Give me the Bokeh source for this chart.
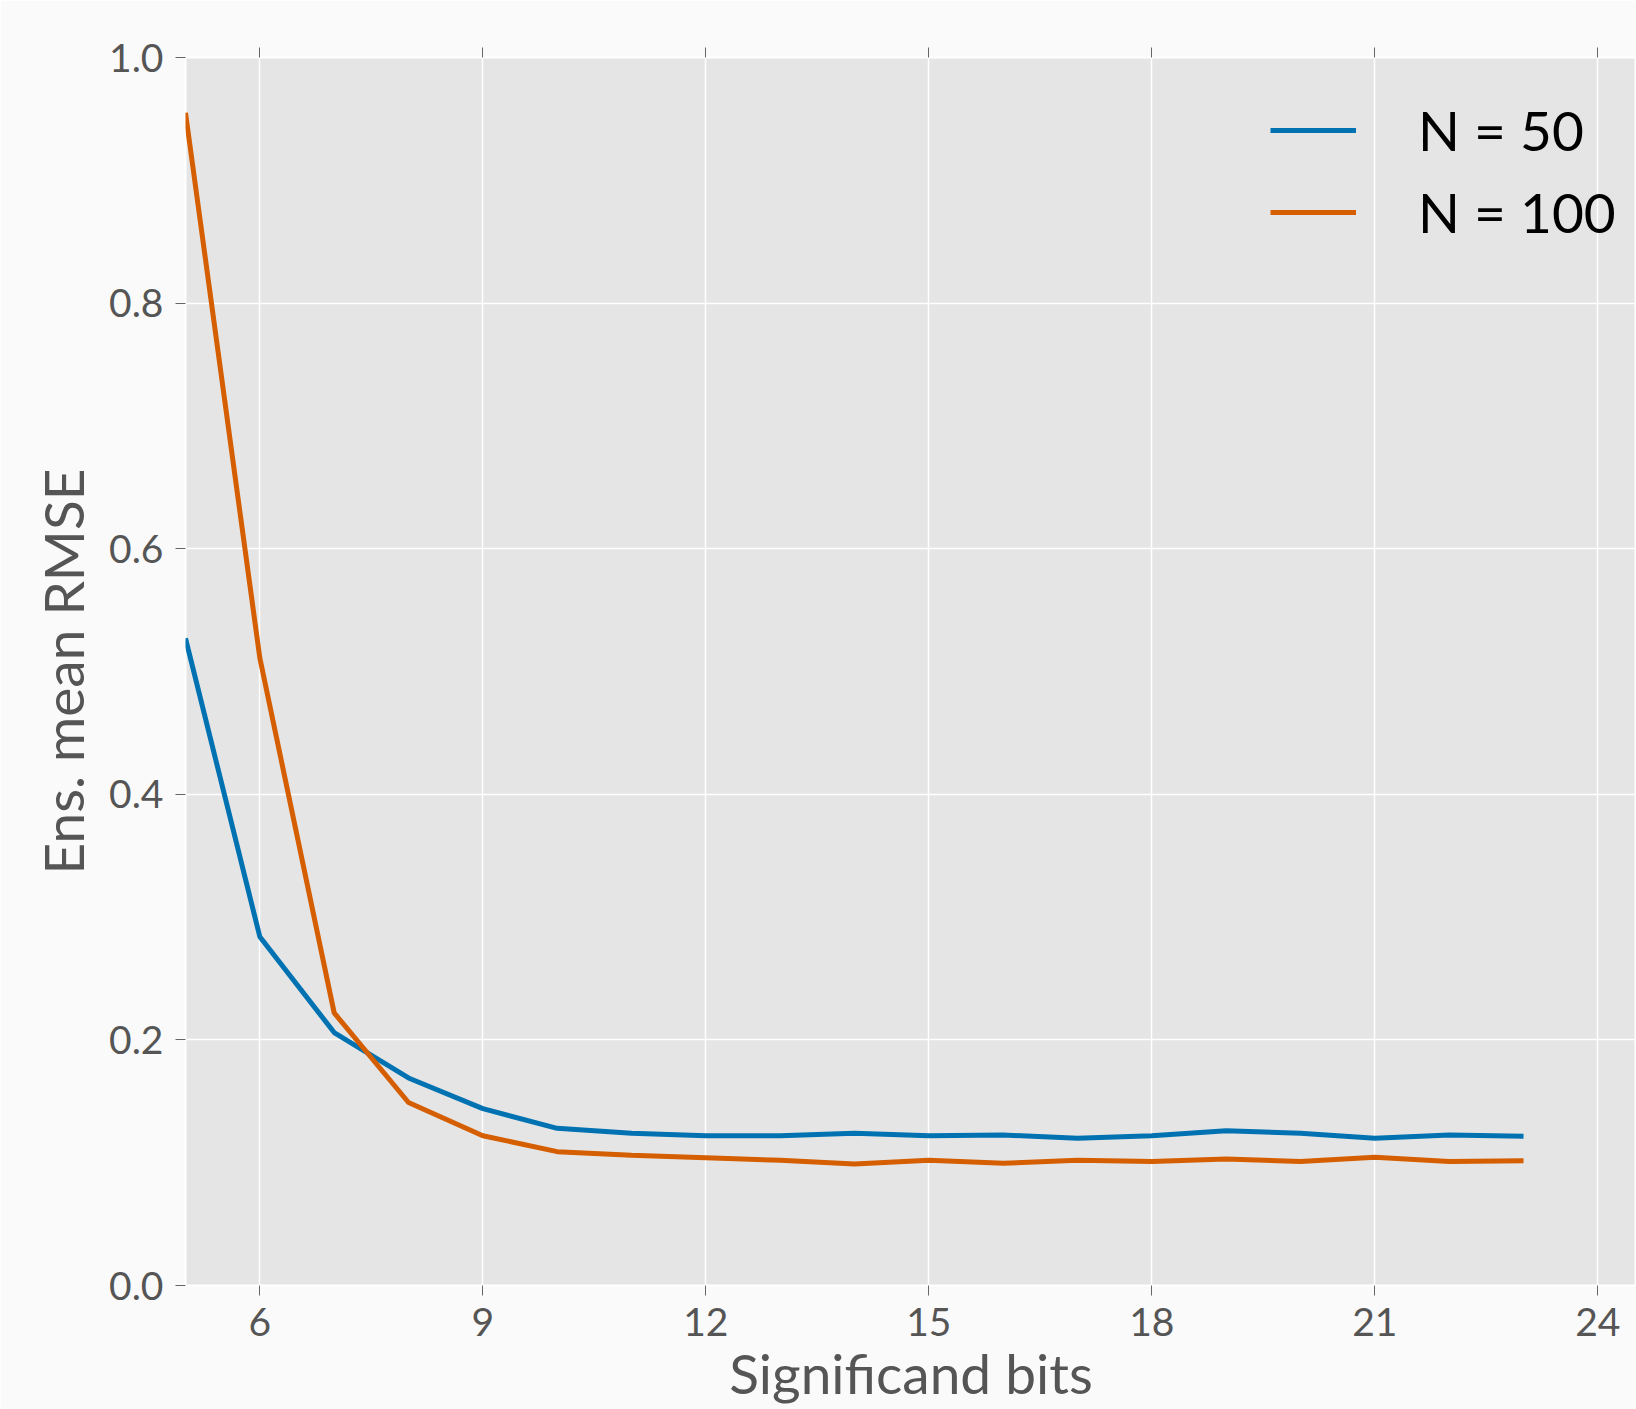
from bokeh.plotting import figure
from bokeh.models import LinearAxis, FixedTicker, Range1d, Legend, LegendItem
from bokeh.embed import file_html
from bokeh.resources import INLINE

# ---- data ----
bits = [5, 6, 7, 8, 9, 10, 11, 12, 13, 14, 15, 16, 17, 18, 19, 20, 21, 22, 23]
rmse_n50 = [0.527, 0.284, 0.206, 0.169, 0.144, 0.128, 0.124, 0.122, 0.122, 0.124,
            0.122, 0.1225, 0.120, 0.122, 0.126, 0.124, 0.120, 0.1225, 0.1215]
rmse_n100 = [0.955, 0.511, 0.222, 0.149, 0.122, 0.109, 0.106, 0.104, 0.102, 0.099,
             0.102, 0.0995, 0.102, 0.101, 0.103, 0.101, 0.1045, 0.101, 0.1015]
series_labels = ["N = 50", "N = 100"]
x_ticks = [6, 9, 12, 15, 18, 21, 24]
y_ticks = [0.0, 0.2, 0.4, 0.6, 0.8, 1.0]
y_tick_labels = ["0.0", "0.2", "0.4", "0.6", "0.8", "1.0"]
x_label = "Significand bits"
y_label = "Ens. mean RMSE"

FONT = "Lato"
GRAY = "#555555"

p = figure(width=1636, height=1409,
           x_range=Range1d(5, 24.52), y_range=Range1d(0, 1.0),
           output_backend="svg", toolbar_location=None,
           background_fill_color="#e5e5e5", border_fill_color="#fafafa",
           min_border_left=185, min_border_right=0,
           min_border_top=57, min_border_bottom=124)
p.outline_line_color = "white"
p.outline_line_width = 2

r1 = p.line(bits, rmse_n50, line_color="#0072B2", line_width=5)
r2 = p.line(bits, rmse_n100, line_color="#D55E00", line_width=5)

xa = p.xaxis[0]
xa.ticker = FixedTicker(ticks=x_ticks)
xa.axis_label = x_label
yaxis = p.yaxis[0]
yaxis.ticker = FixedTicker(ticks=y_ticks)
yaxis.major_label_overrides = {t: l for t, l in zip(y_ticks, y_tick_labels)}
yaxis.axis_label = y_label

for ax in (xa, yaxis):
    ax.axis_line_color = None
    ax.major_tick_in = 0
    ax.major_tick_out = 10
    ax.major_tick_line_color = "#666666"
    ax.minor_tick_line_color = None
    ax.major_label_text_font = FONT
    ax.major_label_text_font_size = "39px"
    ax.major_label_text_color = GRAY
    ax.major_label_standoff = 12
    ax.axis_label_text_font = FONT
    ax.axis_label_text_font_size = "55px"
    ax.axis_label_text_font_style = "normal"
    ax.axis_label_text_color = GRAY
xa.axis_label_standoff = 1
yaxis.axis_label_standoff = 10

# top ticks only (no labels): drawn as minor ticks of a label-less axis
top_axis = LinearAxis(ticker=FixedTicker(ticks=[], minor_ticks=x_ticks),
                      axis_line_color=None, major_tick_line_color=None,
                      minor_tick_in=0, minor_tick_out=10,
                      minor_tick_line_color="#666666")
p.add_layout(top_axis, "above")

p.xgrid.ticker = FixedTicker(ticks=x_ticks)
p.ygrid.ticker = FixedTicker(ticks=y_ticks)
for g in (p.xgrid, p.ygrid):
    g.grid_line_color = "white"
    g.grid_line_width = 1.5

legend = Legend(items=[LegendItem(label=series_labels[0], renderers=[r1]),
                       LegendItem(label=series_labels[1], renderers=[r2])],
                location=(1085, 1040), background_fill_alpha=0,
                border_line_color=None, label_text_font=FONT,
                label_text_font_size="55px", label_text_color="black",
                glyph_width=86, glyph_height=64, label_standoff=62,
                spacing=16, padding=22, margin=0)
p.add_layout(legend)

open("out.html", "w").write(file_html(p, INLINE))
